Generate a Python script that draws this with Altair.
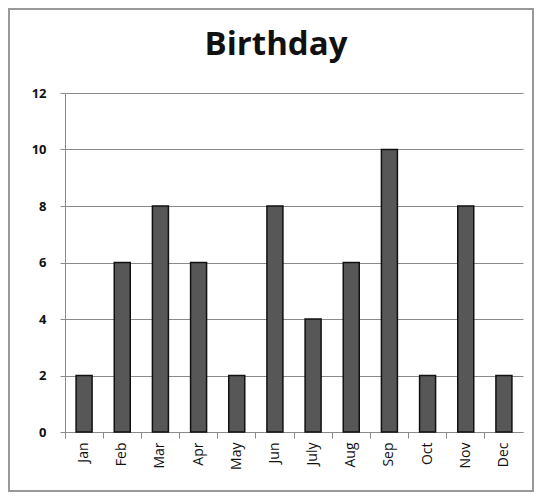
import altair as alt
import pandas as pd

months = ["Jan", "Feb", "Mar", "Apr", "May", "Jun", "July", "Aug", "Sep", "Oct", "Nov", "Dec"]
counts = [2, 6, 8, 6, 2, 8, 4, 6, 10, 2, 8, 2]
y_ticks = [0, 2, 4, 6, 8, 10, 12]

df = pd.DataFrame({"month": months, "count": counts})

bars = alt.Chart(df).mark_bar(size=16, color="#575757", stroke="#111111", strokeWidth=1.5).encode(
    x=alt.X("month:N", sort=months, title=None,
            scale=alt.Scale(paddingInner=0, paddingOuter=0),
            axis=alt.Axis(labelAngle=-90, bandPosition=0, tickSize=6, tickColor="#8a8a8a",
                          domainColor="#8a8a8a", labelFont="Open Sans", labelFontSize=14,
                          labelColor="#111111", labelPadding=4, labelBound=False)),
    y=alt.Y("count:Q", title=None,
            scale=alt.Scale(domain=[0, 12], nice=False),
            axis=alt.Axis(values=y_ticks, grid=True, gridColor="#8a8a8a", gridWidth=1,
                          tickSize=5, tickColor="#8a8a8a", domainColor="#8a8a8a",
                          labelFont="Open Sans", labelFontSize=13, labelFontWeight="bold",
                          labelColor="#111111", labelPadding=14)),
)

border = alt.Chart(df).mark_rect(fill=None, stroke="#999999", strokeWidth=2).encode(
    x=alt.value(-56), x2=alt.value(468), y=alt.value(-84), y2=alt.value(398)
)

chart = alt.layer(bars, border).properties(
    width=458, height=339,
    title=alt.Title("Birthday", font="Open Sans", fontSize=33, fontWeight="bold", color="#111111",
                    anchor="middle", offset=-54, dx=-18),
    autosize=alt.AutoSizeParams(type="none"),
    padding={"left": 57, "top": 85, "right": 12, "bottom": 62},
).configure_view(stroke=None)

chart.save("out.html", embed_options={"renderer": "svg", "actions": False})
